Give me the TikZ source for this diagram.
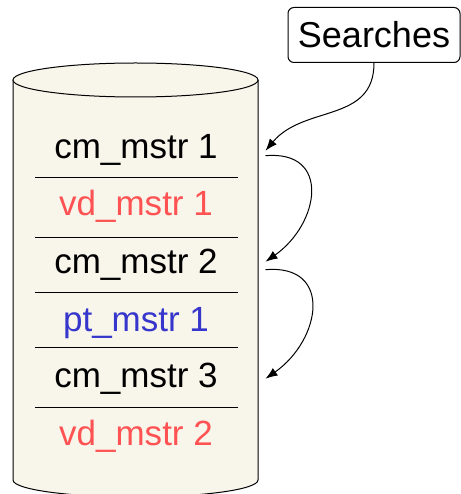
\documentclass[tikz,border=0pt]{standalone}
\usepackage{fontspec}
\setmainfont{Liberation Sans}
\usetikzlibrary{arrows.meta}
\definecolor{cream}{HTML}{F8F5EB}
\definecolor{mstrRed}{HTML}{FF5252}
\definecolor{mstrBlue}{HTML}{3636CC}
\begin{document}
\begin{tikzpicture}[x=1bp,y=-1bp,line width=1bp,
  row/.style={anchor=base,minimum width=258bp,inner sep=0pt,
    text height=0.66em,text depth=0pt,font=\fontsize{35bp}{40bp}\selectfont},
  link/.style={-{Latex[length=12bp,width=9bp]}}]
\useasboundingbox (0,0) rectangle (461,494);
  % the store
  \filldraw[fill=cream] (13,80) -- (13,480)
    arc[start angle=180,end angle=360,x radius=122.5bp,y radius=17bp] -- (258,80);
  \filldraw[fill=cream] (135.5,80) ellipse[x radius=122.5bp,y radius=17bp];
  \foreach \y in {177,237,292,347,407}
    \draw[line width=0.8bp] (35,\y) -- (238,\y);

  \node[row] (cm1) at (136,159) {cm\_mstr 1};
  \node[row,text=mstrRed] (vd1) at (136,215) {vd\_mstr 1};
  \node[row] (cm2) at (136,273) {cm\_mstr 2};
  \node[row,text=mstrBlue] (pt1) at (136,331) {pt\_mstr 1};
  \node[row] (cm3) at (136,387) {cm\_mstr 3};
  \node[row,text=mstrRed] (vd2) at (136,445) {vd\_mstr 2};

  \node[draw,rounded corners=6bp,minimum width=172bp,minimum height=55bp,
    font=\fontsize{36bp}{40bp}\selectfont] (searches) at (374,35) {Searches};

  \draw[link] (searches.south) to[out=-90,in=50,looseness=1.1] ([yshift=5bp]cm1.east);
  \draw[link] (cm1.east) to[out=5,in=35,looseness=1.6] ([yshift=8bp]cm2.east);
  \draw[link] (cm2.east) to[out=5,in=35,looseness=1.6] ([yshift=5bp]cm3.east);
\end{tikzpicture}
\end{document}
